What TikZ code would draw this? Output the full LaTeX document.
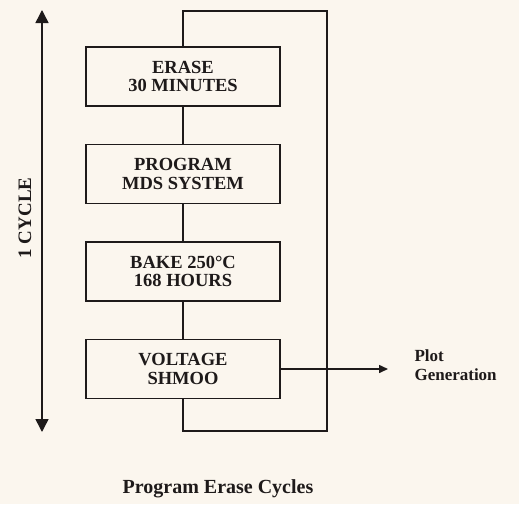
\documentclass[tikz,border=0pt]{standalone}
\usepackage{fontspec}
\setmainfont{Liberation Serif}
\usepackage{tikz}
\usetikzlibrary{arrows.meta,positioning}
\definecolor{ink}{HTML}{1E1A1A}
\definecolor{paper}{HTML}{FBF6EE}
\tikzset{stage/.style={draw=ink,line width=1.5pt,minimum width=194pt,minimum height=59pt,align=center,font=\bfseries\fontsize{18.5}{18.5}\selectfont,text=ink,inner sep=2pt},wire/.style={draw=ink,line width=1.5pt},arr/.style={wire,-{Triangle[length=9pt,width=8pt]}},cyc/.style={wire,{Triangle[length=13pt,width=13pt]}-{Triangle[length=13pt,width=13pt]}},lab/.style={font=\bfseries\fontsize{17}{19}\selectfont,text=ink,align=left}}
\begin{document}
\begin{tikzpicture}[x=1pt,y=-1pt]
\fill[paper] (0,0) rectangle (519,504);
\node[stage] (erase) at (183,76.5) {ERASE\\30 MINUTES};
\node[stage,below=37pt of erase] (prog) {PROGRAM\\MDS SYSTEM};
\node[stage,below=37pt of prog] (bake) {BAKE 250°C\\168 HOURS};
\node[stage,below=37pt of bake] (shmoo) {VOLTAGE\\SHMOO};
\coordinate (loopbot) at (327,431);
\coordinate (looptop) at (327,11);
\coordinate (plot) at (388,363);
\coordinate (cyctop) at (42,10);
\coordinate (cycbot) at (42,432);
\draw[wire] (erase) -- (prog);
\draw[wire] (prog) -- (bake);
\draw[wire] (bake) -- (shmoo);
\draw[wire] (shmoo.south) |- (loopbot) -- (looptop) -| (erase.north);
\draw[arr] (shmoo.east) -- (shmoo.east -| plot);
\node[lab,anchor=west] (gen) at (411,365) {Plot\\Generation};
\draw[cyc] (cyctop) -- (cycbot);
\node[font=\bfseries\fontsize{19}{20}\selectfont,text=ink,rotate=90] (cycle) at (25,218) {1 CYCLE};
\node[font=\bfseries\fontsize{20}{22}\selectfont,text=ink] (title) at (218,489) {Program Erase Cycles};
\end{tikzpicture}
\end{document}
